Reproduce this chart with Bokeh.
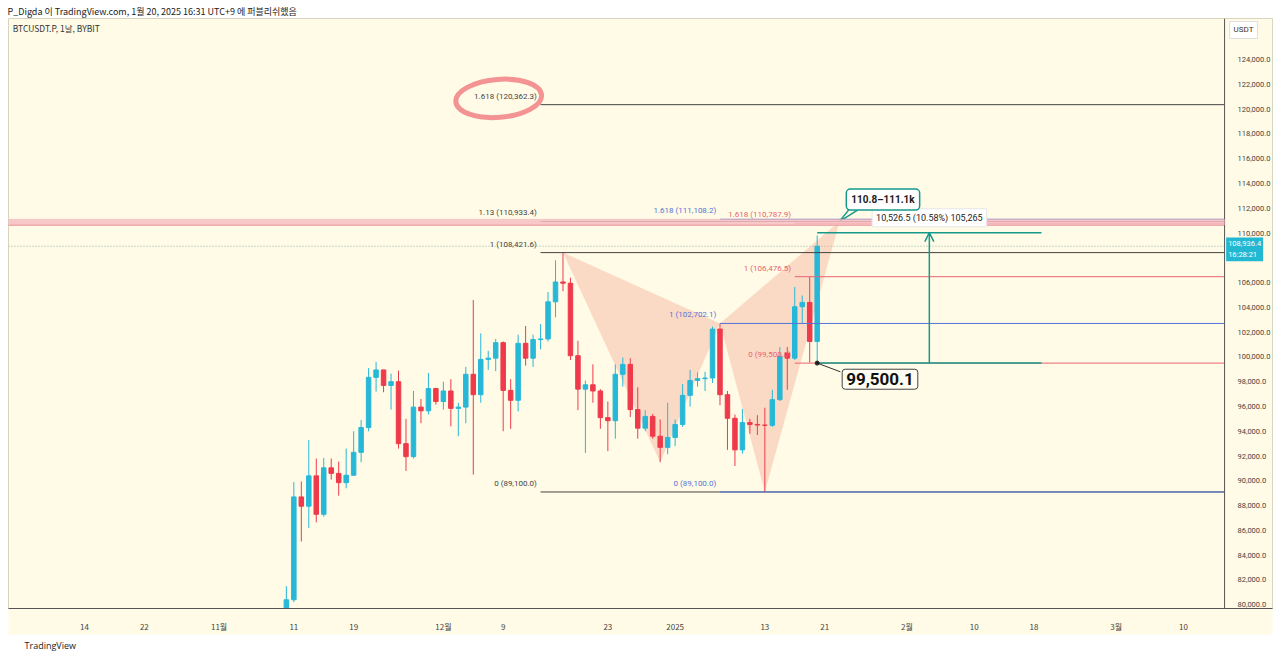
import pandas as pd
from bokeh.plotting import figure
from bokeh.models import (ColumnDataSource, Range1d, FixedTicker, NumeralTickFormatter, Span,
                          BoxAnnotation, Label, Arrow, OpenHead, Title)
from bokeh.embed import file_html
from bokeh.resources import INLINE
from bokeh.core.properties import value

# ---------------- data ----------------
ORIGIN = pd.Timestamp("2024-10-14")


def day(s):
    return (pd.Timestamp(s) - ORIGIN).days


dates = pd.date_range("2024-11-10", "2025-01-20", freq="D").strftime("%Y-%m-%d").tolist()
opens = [76700, 80400, 88700, 87950, 90400, 87300, 91050, 90600, 89850, 90450, 92300, 94300,
         98350, 98950, 97700, 98000, 93000, 91950, 95950, 95650, 97450, 96400, 97250, 95850,
         95950, 98600, 96950, 99800, 99900, 101150, 97300, 96500, 101100, 99900, 101400, 101450,
         104450, 106050, 105950, 100100, 97400, 97750, 97250, 95100, 94850, 98600, 99400, 95750,
         94250, 95200, 93600, 92700, 93500, 94550, 96900, 98100, 98250, 98300, 102250, 96950,
         95050, 92500, 94700, 94550, 94500, 94480, 96550, 100300, 99900, 104050, 104400, 101250]
highs = [81500, 89900, 89950, 93300, 91800, 91850, 91800, 91550, 92600, 94000, 94900, 99100,
         99600, 98950, 98650, 98900, 95000, 97250, 96600, 98700, 97500, 98000, 98200, 96300,
         99200, 104600, 101900, 100500, 101450, 101250, 98200, 101800, 102500, 101800, 102650, 105250,
         107800, 108421.6, 106400, 101300, 98100, 99400, 97400, 96400, 99400, 99950, 99900, 97550,
         95700, 95400, 94950, 96300, 94950, 97800, 98950, 98750, 98800, 102450, 102702.1, 97250,
         95350, 95800, 95000, 95300, 95900, 97350, 100800, 100800, 105650, 104950, 106476.5, 109800]
lows = [76500, 80200, 85100, 86200, 86650, 87100, 90100, 88800, 89400, 90400, 91500, 94000,
        97200, 97150, 95750, 92600, 90800, 91800, 94650, 95350, 96150, 95750, 94400, 93600,
        94650, 90500, 96300, 98950, 98850, 94000, 94200, 95600, 99300, 99200, 100600, 101250,
        103200, 105300, 99750, 95700, 92250, 96300, 94200, 92400, 93400, 97600, 95150, 93400,
        94000, 93400, 91500, 92150, 92800, 94350, 96000, 97600, 97250, 97900, 96100, 92500,
        91200, 92200, 93800, 93700, 89100, 94350, 96450, 97350, 99750, 102700, 99550, 99500.1]
closes = [80400, 88700, 87950, 90400, 87300, 91050, 90600, 89850, 90450, 92300, 94300, 98350,
          98950, 97700, 98000, 93000, 91950, 95950, 95650, 97450, 96400, 97250, 95850, 95950,
          98600, 96950, 99800, 99900, 101150, 97300, 96500, 101100, 99900, 101400, 101450, 104450,
          106050, 105950, 100100, 97400, 97750, 97250, 95100, 94850, 98600, 99400, 95750, 94250,
          95200, 93600, 92700, 93500, 94550, 96900, 98100, 98250, 98300, 102250, 96950, 95050,
          92500, 94700, 94550, 94500, 94480, 96550, 100050, 99900, 104050, 104400, 101250, 108936.4]

# price-scale labels shown (108,000 is hidden behind the live price tag)
price_ticks = [80000, 82000, 84000, 86000, 88000, 90000, 92000, 94000, 96000, 98000, 100000,
               102000, 104000, 106000, 110000, 112000, 114000, 116000, 118000, 120000, 122000,
               124000]
tick_dates = ["2024-10-14", "2024-10-22", "2024-11-01", "2024-11-11", "2024-11-19", "2024-12-01",
              "2024-12-09", "2024-12-23", "2025-01-01", "2025-01-13", "2025-01-21", "2025-02-01",
              "2025-02-10", "2025-02-18", "2025-03-01", "2025-03-10"]
tick_labels = ["14", "22", "11월", "11", "19", "12월", "9", "23", "2025", "13", "21", "2월",
               "10", "18", "3월", "10"]

# Fibonacci drawings
fib_black_levels = [0, 1, 1.13, 1.618]
fib_black_prices = [89100.0, 108421.6, 110933.4, 120362.3]
fib_black_start = "2024-12-14"
fib_blue_levels = [0, 1, 1.618]
fib_blue_prices = [89100.0, 102702.1, 111108.2]
fib_blue_start = "2025-01-07"
fib_red_levels = [0, 1, 1.618]
fib_red_prices = [99500.0, 106476.5, 110787.9]
fib_red_start = "2025-01-17"

current_price = 108936.4
current_time = "16:28:21"
zone_low, zone_high = 110650, 111110
measure_low, measure_high = 99500.1, 110026.6
measure_start, measure_end = "2025-01-20", "2025-02-19"
pattern_dates = ["2024-12-17", "2024-12-30", "2025-01-07", "2025-01-13", "2025-01-23"]
pattern_d_price = 110950

# ---------------- layout / styles ----------------
X0, X1 = -10.166, 158.9          # visible day range (pane incl. price column)
SCALE_EDGE = 152.49              # day position of the price-scale separator
CREAM = "#FFFBE6"
UP = "#27B8D8"
DOWN = "#EF3A4C"
BLACK_FIB = "#444444"
BLUE_FIB = "#5373D8"
RED_FIB = "#E8636F"
TEAL = "#16998A"
TXT = "#333333"
FONT = "Noto Sans CJK KR"

p = figure(width=1280, height=654, output_backend="svg", toolbar_location=None,
           x_range=Range1d(X0, X1), y_range=Range1d(79694, 127317),
           y_axis_location="right", x_axis_location="below",
           min_border_left=8, min_border_right=8, min_border_top=18, min_border_bottom=45)
p.background_fill_color = CREAM
p.border_fill_color = "white"
p.outline_line_color = "#d8d4c0"
p.xgrid.visible = False
p.ygrid.visible = False

hdr = Title(text="P_Digda 이 TradingView.com, 1월 20, 2025 16:31 UTC+9 에 퍼블리쉬했음",
            text_font=FONT, text_font_size="9px", text_font_style="normal", text_color="#222222",
            align="left", standoff=1, offset=-1)
p.add_layout(hdr, "above")
ftr = Title(text="TradingView", text_font="Open Sans", text_font_size="9px", text_font_style="normal",
            text_color="#222222", align="left", offset=16, standoff=5)
p.add_layout(ftr, "below")

# axes
ya = p.yaxis[0]
ya.ticker = FixedTicker(ticks=price_ticks)
ya.formatter = NumeralTickFormatter(format="0,0.0")
ya.major_tick_line_color = None
ya.minor_tick_line_color = None
ya.major_label_standoff = -41
ya.major_label_text_font = "Roboto"
ya.major_label_text_font_size = "7.5px"
ya.major_label_text_color = "#444444"
ya.axis_line_color = None

xa = p.xaxis[0]
tick_pos = [day(d) for d in tick_dates]
xa.ticker = FixedTicker(ticks=tick_pos)
xa.major_label_overrides = {t: l for t, l in zip(tick_pos, tick_labels)}
xa.major_tick_line_color = None
xa.minor_tick_line_color = None
xa.major_label_standoff = 6
xa.major_label_text_font = FONT
xa.major_label_text_font_size = "8px"
xa.major_label_text_color = "#444444"
xa.axis_line_color = "#555555"
xa.background_fill_color = CREAM

# price scale separator
p.add_layout(Span(location=SCALE_EDGE, dimension="height", line_color="#555555", line_width=1))

# pink zone and current price line
p.add_layout(BoxAnnotation(left=X0, right=SCALE_EDGE, bottom=zone_low, top=zone_high,
                           fill_color="#F7BEC3", fill_alpha=0.85, line_color="#F0A0A8", line_width=1))
p.segment(x0=[X0, X0], y0=[zone_low, current_price], x1=[SCALE_EDGE, SCALE_EDGE],
          y1=[zone_low, current_price], line_color=["#D8606D", "#8DB5AA"],
          line_dash=["solid", "1 2"], line_width=1)

# XABCD pattern triangles
dmap = {d: i for i, d in enumerate(dates)}
X = (day(pattern_dates[0]), highs[dmap[pattern_dates[0]]])
A = (day(pattern_dates[1]), lows[dmap[pattern_dates[1]]])
B = (day(pattern_dates[2]), highs[dmap[pattern_dates[2]]])
C = (day(pattern_dates[3]), lows[dmap[pattern_dates[3]]])
D = (day(pattern_dates[4]), pattern_d_price)
p.patches(xs=[[X[0], A[0], B[0]], [B[0], C[0], D[0]]],
          ys=[[X[1], A[1], B[1]], [B[1], C[1], D[1]]],
          fill_color="#F5A08A", fill_alpha=0.36, line_color=None)

# candles
xs = [day(d) for d in dates]
src = ColumnDataSource(dict(
    x=xs, o=opens, h=highs, l=lows, c=closes,
    top=[max(o, c) for o, c in zip(opens, closes)],
    bot=[min(o, c) for o, c in zip(opens, closes)],
    col=[UP if c >= o else DOWN for o, c in zip(opens, closes)]))
p.segment(x0="x", y0="l", x1="x", y1="h", line_color="col", line_width=1, source=src)
p.vbar(x="x", width=0.6, top="top", bottom="bot", fill_color="col", line_color="col",
       line_width=1, source=src)

# fib lines
fx0, fy, fcol, flab, flx = [], [], [], [], []
for levels, prices, start, col in [(fib_black_levels, fib_black_prices, fib_black_start, BLACK_FIB),
                                   (fib_blue_levels, fib_blue_prices, fib_blue_start, BLUE_FIB),
                                   (fib_red_levels, fib_red_prices, fib_red_start, RED_FIB)]:
    for lv, pr in zip(levels, prices):
        fx0.append(day(start))
        fy.append(pr)
        fcol.append(col)
        flab.append(f"{lv:g} ({pr:,.1f})")
        flx.append(day(start) - 0.5)
fsrc = ColumnDataSource(dict(x0=fx0, x1=[SCALE_EDGE] * len(fx0), y=fy, col=fcol, lab=flab, lx=flx))
p.segment(x0="x0", y0="y", x1="x1", y1="y", line_color="col", line_width=1, source=fsrc)
p.text(x="lx", y="y", text="lab", text_color="col", text_align="right", text_baseline="bottom",
       y_offset=-4, text_font=value("Roboto"), text_font_size="8px", source=fsrc)

# highlight ellipse around 1.618 level label
p.ellipse(x=[55.4], y=[120870], width=[86], height=[38], width_units="screen",
          height_units="screen", angle=0.08, fill_color=None, line_color="#F2878A",
          line_width=5, line_alpha=0.9)

# measure tool
m0, m1 = day(measure_start), day(measure_end)
mid = (m0 + m1) / 2
p.segment(x0=[m0, m0], y0=[measure_low, measure_high], x1=[m1, m1], y1=[measure_low, measure_high],
          line_color=TEAL, line_width=1.5)
p.add_layout(Arrow(end=OpenHead(size=9, line_color=TEAL, line_width=1.5), x_start=mid,
                   y_start=measure_low, x_end=mid, y_end=measure_high, line_color=TEAL,
                   line_width=1.5))
diff = measure_high - measure_low
mtxt = f"{diff:,.1f} ({diff / measure_low * 100:.2f}%) {int(round(diff * 10)):,}"
p.add_layout(Label(x=mid, y=measure_high, text=mtxt, text_align="center", text_baseline="middle",
                   y_offset=15, text_font="Roboto", text_font_size="9px", text_color="#222222",
                   background_fill_color="white", border_line_color="#e6e6e6", padding=4))

# callout 110.8-111.1k
p.line(x=[D[0] + 1.2, D[0], D[0] + 2.4], y=[D[1] + 900, D[1], D[1] + 900],
       line_color=TEAL, line_width=1.5)
p.add_layout(Label(x=D[0] + 5.8, y=D[1] + 1750, text="110.8–111.1k", text_align="center",
                   text_baseline="middle", text_font="Roboto", text_font_size="10px",
                   text_font_style="bold", text_color="#222222", background_fill_color="white",
                   border_line_color=TEAL, border_line_width=1.5, border_radius=4, padding=5))

# callout 99,500.1
last = len(dates) - 1
p.line(x=[xs[last], xs[last] + 3.1], y=[lows[last], lows[last] - 700], line_color="#333333",
       line_width=1)
p.scatter(x=[xs[last]], y=[lows[last]], size=4, color="#222222")
p.add_layout(Label(x=xs[last] + 8.4, y=lows[last] - 1300, text=f"{lows[last]:,.1f}",
                   text_align="center", text_baseline="middle", text_font="Roboto",
                   text_font_size="17px", text_font_style="bold", text_color="#111111",
                   background_fill_color="#FFFDF2", border_line_color="#444444",
                   border_line_width=1, border_radius=3, padding=4))

# in-chart symbol label
p.add_layout(Label(x=-9.6, y=126511, text="BTCUSDT.P, 1날, BYBIT", text_baseline="middle",
                   text_font=FONT, text_font_size="8.5px", text_color=TXT))

# right scale extras
p.add_layout(Label(x=153.16, y=126390, text="USDT", text_baseline="middle", text_font="Roboto",
                   text_font_size="8px", text_color="#333333", background_fill_color="white",
                   border_line_color="#e0e0e0", padding=4))
p.add_layout(Label(x=152.7, y=current_price - 250, text=f"{current_price:,.1f}\n{current_time}",
                   text_baseline="middle", text_font="Roboto", text_font_size="7.5px",
                   text_color="white", background_fill_color="#22B8D2", padding=2))

open("out.html", "w").write(file_html(p, INLINE))
